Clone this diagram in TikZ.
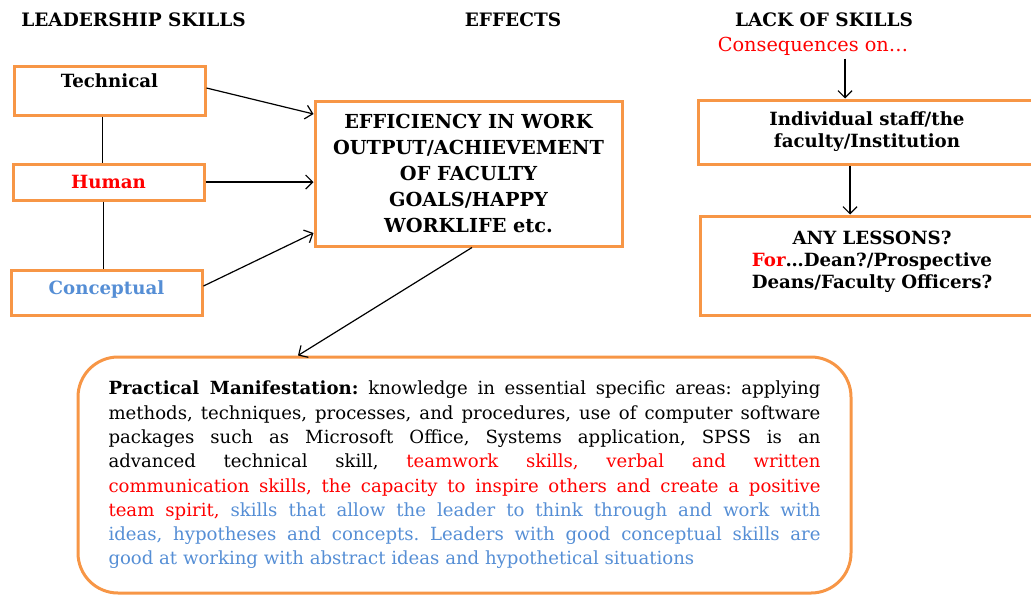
\documentclass[tikz,border=0pt]{standalone}
\usepackage{fontspec}
\setmainfont{DejaVu Serif}
\usetikzlibrary{arrows.meta}
\definecolor{boxorange}{HTML}{F79646}
\definecolor{skillblue}{HTML}{558ED5}
\definecolor{skillred}{HTML}{FF0000}
\frenchspacing
\hyphenpenalty=10000
\exhyphenpenalty=10000

\tikzset{
  heading/.style={font=\bfseries\fontsize{18.5}{22}\selectfont},
  skillbox/.style={draw=boxorange, line width=3pt, inner sep=0pt,
    font=\bfseries\fontsize{18.2}{22}\selectfont},
  link/.style={-{Straight Barb[length=7pt,width=14pt]}, line width=1.2pt},
}

\begin{document}
\begin{tikzpicture}[x=1pt, y=-1pt]
  \useasboundingbox (0,0) rectangle (1031,598);
  \clip (0,0) rectangle (1031,598);

  % column headings
  \node[heading] (leadTitle) at (133.5,20) {LEADERSHIP SKILLS};
  \node[heading] (effTitle) at (513,20) {EFFECTS};
  \node[heading] (lackTitle) at (824,20) {LACK OF SKILLS};
  \node[font=\fontsize{19.3}{22}\selectfont, text=skillred] (cons) at (813,46) {Consequences on\dots};

  % skills
  \node[skillbox, minimum width=191pt, minimum height=49pt, text height=12pt, text depth=18pt] (tech) at (109.5,90.5) {Technical};
  \node[skillbox, minimum width=191pt, minimum height=36pt, text=skillred] (human) at (108.5,182) {Human};
  \node[skillbox, minimum width=191pt, minimum height=45pt, text=skillblue, text height=12pt, text depth=8pt] (concept) at (106.5,292.5) {Conceptual};
  \draw[line width=1.2pt] ([xshift=-7pt]tech.south) -- ([xshift=-6pt]human.north);
  \draw[line width=1.2pt] ([xshift=-5pt]human.south) -- ([xshift=-3pt]concept.north);

  % effects
  \node[skillbox, minimum width=307pt, minimum height=145pt, align=center,
    font=\bfseries\fontsize{19.3}{26}\selectfont] (effBox) at (468.5,173.5)
    {EFFICIENCY IN WORK\\OUTPUT/ACHIEVEMENT\\OF FACULTY\\GOALS/HAPPY\\WORKLIFE etc.};
  \draw[link] ([yshift=2.5pt]tech.east) -- ([yshift=59.5pt]effBox.west);
  \draw[link] (human.east) -- ([yshift=-8.5pt]effBox.west);
  \draw[link] ([yshift=6.5pt]concept.east) -- ([yshift=-59.5pt]effBox.west);

  % lack of skills
  \node[skillbox, minimum width=338pt, minimum height=64pt, align=center] (indiv) at (867,132)
    {Individual staff/the\\faculty/Institution};
  \node[skillbox, minimum width=344pt, minimum height=99pt, align=center] (lessons) at (872,265.5)
    {ANY LESSONS?\\\textcolor{skillred}{For}\dots Dean?/Prospective\\Deans/Faculty Officers?\\[-10pt]\mbox{}};
  \draw[link] ([xshift=32pt]cons.south) -- ([xshift=-22pt]indiv.north);
  \draw[link] ([xshift=-17pt]indiv.south) -- ([xshift=-22pt]lessons.north);

  % practical manifestation
  \node[draw=boxorange, line width=3pt, rounded corners=40pt, minimum height=236pt,
    text width=712pt, inner xsep=30.5pt, align=justify,
    font=\fontsize{18.1}{24.3}\selectfont] (manif) at (464.5,475)
    {\textbf{Practical Manifestation:} knowledge in essential specific areas: applying\linebreak
     methods, techniques, processes, and procedures, use of computer software\linebreak
     packages such as Microsoft Office, Systems application, SPSS is an\linebreak
     advanced technical skill, \textcolor{skillred}{teamwork skills, verbal and written\linebreak
     communication skills, the capacity to inspire others and create a positive\linebreak
     team spirit,} \textcolor{skillblue}{skills that allow the leader to think through and work with\linebreak
     ideas, hypotheses and concepts. Leaders with good conceptual skills are\linebreak
     good at working with abstract ideas and hypothetical situations}};
  \draw[link] ([xshift=3.5pt]effBox.south) -- ([xshift=-166.5pt]manif.north);
\end{tikzpicture}
\end{document}
